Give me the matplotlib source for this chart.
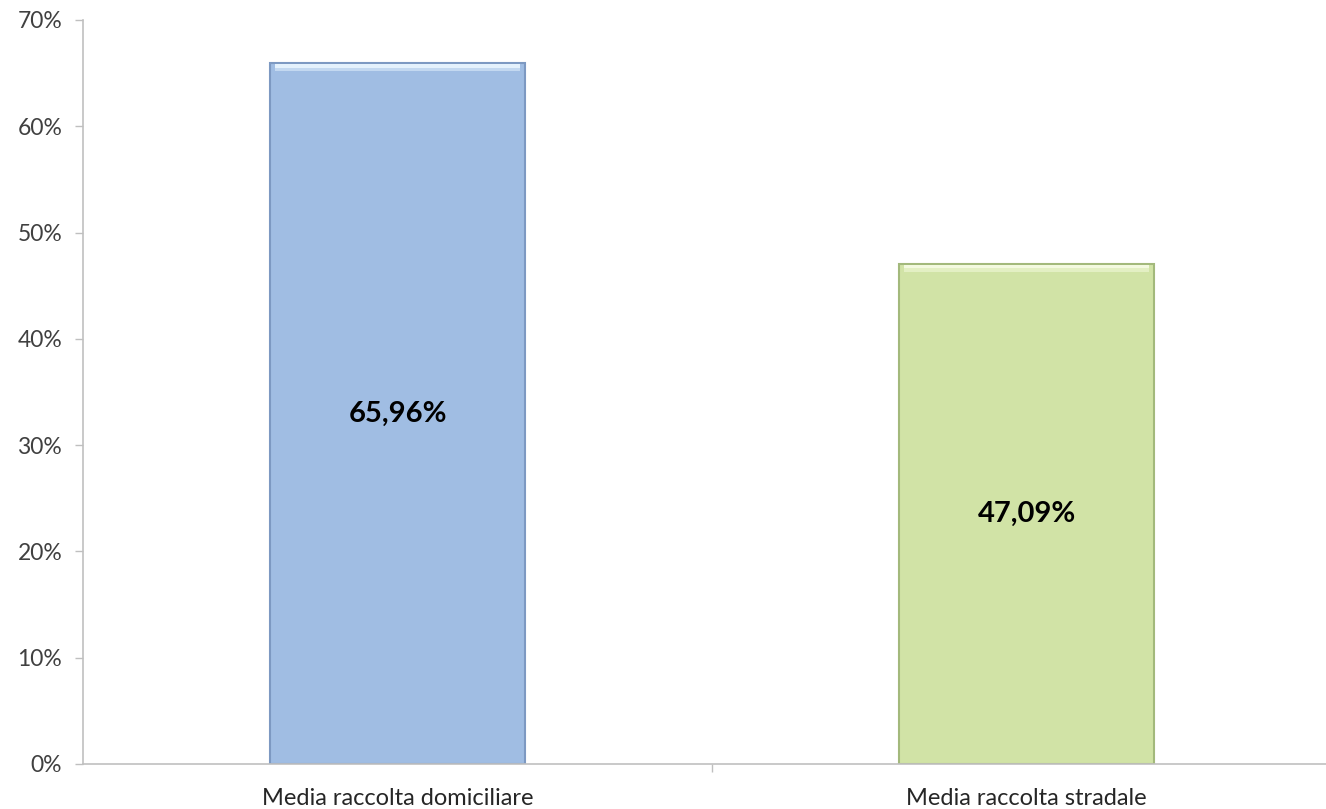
import matplotlib
matplotlib.use("Agg")
import matplotlib.pyplot as plt
from matplotlib.ticker import FuncFormatter

categories = ["Media raccolta domiciliare", "Media raccolta stradale"]
values = [65.96, 47.09]
value_labels = ["65,96%", "47,09%"]
bar_colors = ["#a0bde3", "#d1e3a6"]
edge_colors = ["#7d99c2", "#a3b97c"]
top_colors = ["#e4f1fc", "#f3f9df"]
mid_colors = ["#c3d8f0", "#e3efc3"]
yticks = [0, 10, 20, 30, 40, 50, 60, 70]

plt.rcParams["font.family"] = ["Lato", "DejaVu Sans"]

fig = plt.figure(figsize=(13.26, 8.09), dpi=100)
ax = fig.add_axes([83 / 1326, 45 / 809, 1 - 83 / 1326, 744 / 809])

x = list(range(len(categories)))
bars = ax.bar(x, values, width=0.405, color=bar_colors,
              edgecolor=edge_colors, linewidth=1.5, zorder=2)

# light bevel along the top of each bar
for xi, v, c, m in zip(x, values, top_colors, mid_colors):
    ax.bar(xi, 0.35, bottom=v - 0.45, width=0.39, color=c, linewidth=0, zorder=3)
    ax.bar(xi, 0.35, bottom=v - 0.8, width=0.39, color=m, linewidth=0, zorder=3)

for xi, v, lab in zip(x, values, value_labels):
    ax.text(xi, v / 2, lab, ha="center", va="center", fontsize=21,
            fontweight="bold", color="black", zorder=4)

ax.set_xlim(-0.5, -0.5 + (1326 - 83) / 629)
ax.set_ylim(0, 70)
ax.set_yticks(yticks)
ax.yaxis.set_major_formatter(FuncFormatter(lambda v, p: f"{v:.0f}%"))

# category labels at bar centres, tick mark between categories
ax.set_xticks([0.5])
ax.set_xticklabels([""])
ax.tick_params(axis="x", length=6, color="#bfbfbf", width=1)
for xi, name in zip(x, categories):
    ax.text(xi, -2.3, name, ha="center", va="top", fontsize=17, color="#262626")

ax.tick_params(axis="y", length=6, color="#bfbfbf", width=1, labelsize=16.5,
               labelcolor="#404040", pad=9)

for s in ["top", "right"]:
    ax.spines[s].set_visible(False)
ax.spines["left"].set_color("#c0c0c0")
ax.spines["bottom"].set_color("#c0c0c0")
ax.spines["left"].set_linewidth(1.2)
ax.spines["bottom"].set_linewidth(1.2)

fig.savefig("out.png", dpi=100)
